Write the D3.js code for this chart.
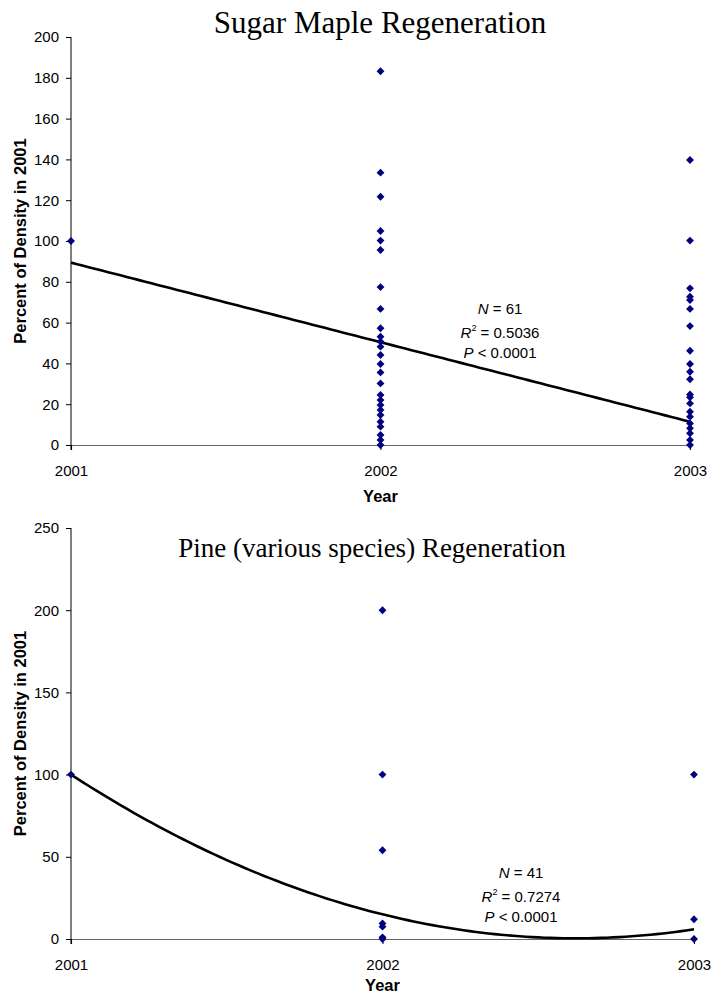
<!DOCTYPE html>
<html>
<head>
<meta charset="utf-8">
<script src="https://cdn.jsdelivr.net/npm/d3@7"></script>
<style>
  html, body { margin: 0; padding: 0; background: #fff; }
  svg { display: block; }
  text { font-family: "Liberation Sans", Arial, sans-serif; fill: #000; }
</style>
</head>
<body>
<svg id="chart" width="721" height="997"></svg>
<script>
// Survey years (x positions)
const years = [2001, 2002, 2003];

// Sugar maple: percent of 2001 density, per plot
const sugar2001 = [100];
const sugar2002 = [183.2, 133.5, 121.7, 104.9, 100.2, 95.6, 77.4, 66.7, 57.2, 53.1, 50.7, 48.2,
                   44.1, 39.7, 35.6, 30.2, 24.5, 22, 19.6, 17.2, 14.7, 11.4, 9, 4.9, 2.5, 0];
const sugar2003 = [139.7, 100.2, 76.8, 72.7, 71.1, 66.7, 58.3, 46.2, 39.7, 35.9, 32.2, 24.8,
                   23.4, 20.4, 16.3, 13.9, 10.6, 8.2, 5.7, 2.5, 0];
// Linear fit: [value at 2001, change per year]
const sugarFit = [89.4, -39.0];
const sugarTicks = [0, 20, 40, 60, 80, 100, 120, 140, 160, 180, 200];
const sugarStats = ["61", "0.5036", "0.0001"];

// Pine (various species): percent of 2001 density, per plot
const pine2001 = [100];
const pine2002 = [200, 100, 54, 9.5, 7.5, 1, 0];
const pine2003 = [100, 12, 0];
// Quadratic fit in (year - 2001): [constant, linear, squared]
const pineFit = [100, -122.95, 37.95];
const pineTicks = [0, 50, 100, 150, 200, 250];
const pineStats = ["41", "0.7274", "0.0001"];

const svg = d3.select("#chart");
const diamond = d3.symbol().type(d3.symbolSquare).size(31);

function panel(cfg) {
  const x = d3.scaleLinear().domain([2001, 2003]).range([cfg.x0, cfg.x1]);
  const y = d3.scaleLinear().domain([0, cfg.yMax]).range([cfg.yBottom, cfg.yTop]);
  const g = svg.append("g");

  // x axis along zero
  const xAxis = g.append("g")
    .attr("transform", `translate(0,${cfg.yBottom})`)
    .call(d3.axisBottom(x).tickValues(years).tickFormat(d3.format("d")).tickSize(5).tickPadding(15));
  xAxis.select(".domain").attr("stroke", "#666").attr("stroke-width", 1.2);
  xAxis.selectAll(".tick line").attr("stroke", "#000");
  xAxis.selectAll("text").attr("font-size", 15).attr("font-family", "Liberation Sans, Arial, sans-serif");

  // y axis
  const yAxis = g.append("g")
    .attr("transform", `translate(${cfg.x0},0)`)
    .call(d3.axisLeft(y).tickValues(cfg.ticks).tickSize(5).tickPadding(7));
  yAxis.select(".domain").attr("stroke", "#000").attr("d", `M0,${cfg.yTop}V${cfg.yBottom + 5}`);
  yAxis.selectAll("text").attr("font-size", 15).attr("font-family", "Liberation Sans, Arial, sans-serif");

  // axis titles
  g.append("text")
    .attr("transform", `translate(${cfg.yTitleX},${(cfg.yTop + cfg.yBottom) / 2}) rotate(-90)`)
    .attr("text-anchor", "middle").attr("dy", "0.35em")
    .attr("font-size", 16.5).attr("font-weight", "bold")
    .text("Percent of Density in 2001");
  g.append("text")
    .attr("x", (cfg.x0 + cfg.x1) / 2).attr("y", cfg.xTitleY)
    .attr("text-anchor", "middle")
    .attr("font-size", 16.5).attr("font-weight", "bold")
    .text("Year");

  // chart title
  g.append("text")
    .attr("x", cfg.titleX).attr("y", cfg.titleY)
    .attr("text-anchor", "middle")
    .attr("font-size", cfg.titleSize)
    .style("font-family", "'Liberation Serif', 'Times New Roman', serif")
    .text(cfg.title);

  // fitted curve
  const samples = d3.range(0, 2.0001, 0.02);
  const line = d3.line().x(t => x(2001 + t)).y(t => y(cfg.fit(t)));
  g.append("path")
    .attr("d", line(samples))
    .attr("fill", "none").attr("stroke", "#000").attr("stroke-width", 2.6)
    .attr("stroke-linejoin", "round");

  // data points
  const pts = [];
  cfg.series.forEach((vals, i) => vals.forEach(v => pts.push({ yr: years[i], v })));
  g.append("g").selectAll("path").data(pts).join("path")
    .attr("d", diamond)
    .attr("transform", d => `translate(${x(d.yr)},${y(d.v)}) rotate(45)`)
    .attr("fill", "#000080");

  // statistics
  const l1 = g.append("text").attr("x", cfg.statX).attr("y", cfg.statY).attr("text-anchor", "middle").attr("font-size", 15);
  l1.append("tspan").attr("font-style", "italic").text("N");
  l1.append("tspan").text(" = " + cfg.stats[0]);
  const l2 = g.append("text").attr("x", cfg.statX).attr("y", cfg.statY + 23.5).attr("text-anchor", "middle").attr("font-size", 15);
  l2.append("tspan").attr("font-style", "italic").text("R");
  l2.append("tspan").attr("font-size", 9).attr("dy", -7).text("2");
  l2.append("tspan").attr("dy", 7).text(" = " + cfg.stats[1]);
  const l3 = g.append("text").attr("x", cfg.statX).attr("y", cfg.statY + 43.5).attr("text-anchor", "middle").attr("font-size", 15);
  l3.append("tspan").attr("font-style", "italic").text("P");
  l3.append("tspan").text(" < " + cfg.stats[2]);
}

panel({
  title: "Sugar Maple Regeneration", titleX: 380, titleY: 33, titleSize: 31,
  x0: 71, x1: 690, yTop: 37, yBottom: 445, yMax: 200, ticks: sugarTicks,
  yTitleX: 20, xTitleY: 502,
  series: [sugar2001, sugar2002, sugar2003],
  fit: t => sugarFit[0] + sugarFit[1] * t,
  stats: sugarStats, statX: 500, statY: 314
});

panel({
  title: "Pine (various species) Regeneration", titleX: 372, titleY: 557, titleSize: 27,
  x0: 71, x1: 694, yTop: 528, yBottom: 939, yMax: 250, ticks: pineTicks,
  yTitleX: 20, xTitleY: 991,
  series: [pine2001, pine2002, pine2003],
  fit: t => pineFit[0] + pineFit[1] * t + pineFit[2] * t * t,
  stats: pineStats, statX: 521, statY: 878
});
</script>
</body>
</html>
